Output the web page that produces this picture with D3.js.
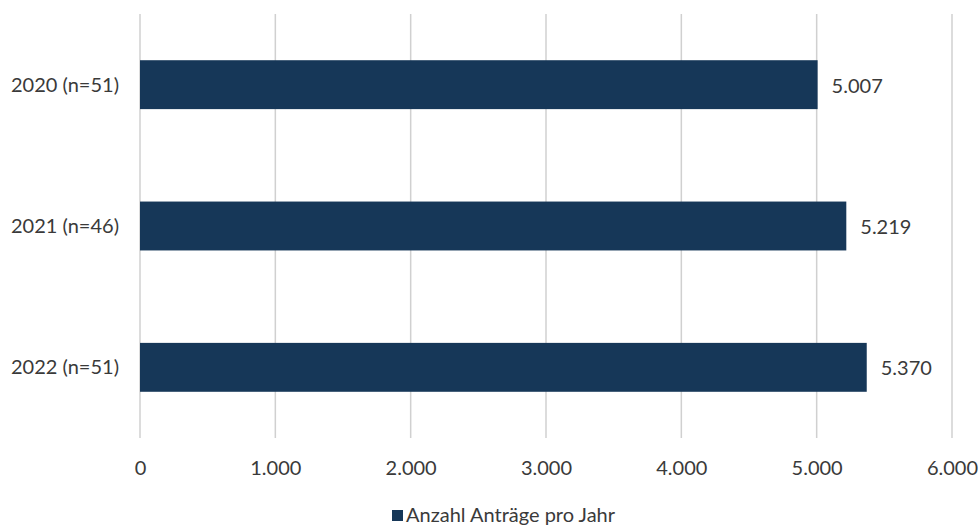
<!DOCTYPE html>
<html>
<head>
<meta charset="utf-8">
<script src="https://cdn.jsdelivr.net/npm/d3@7"></script>
<style>
  body { margin: 0; background: #fff; }
  svg { display: block; }
  text { font-family: Lato, "Open Sans", sans-serif; fill: #3a3a3a; }
</style>
</head>
<body>
<svg id="chart" width="980" height="526"></svg>
<script>
const categories = ["2020 (n=51)", "2021 (n=46)", "2022 (n=51)"];
const values = [5007, 5219, 5370];
const tickValues = [0, 1000, 2000, 3000, 4000, 5000, 6000];
const seriesName = "Anzahl Anträge pro Jahr";

const fmt = d3.formatLocale({ decimal: ",", thousands: ".", grouping: [3], currency: ["", "€"] }).format(",.0f");

const svg = d3.select("#chart");
const plot = { left: 140, right: 952, top: 14, bottom: 438 };
const fontSize = 20;

const x = d3.scaleLinear().domain([0, 6000]).range([plot.left, plot.right]);
const y = d3.scaleBand().domain(categories).range([plot.top, plot.bottom]).paddingInner(0.654).paddingOuter(0.327);

// vertical gridlines
svg.append("g").selectAll("line").data(tickValues).join("line")
  .attr("x1", d => x(d)).attr("x2", d => x(d))
  .attr("y1", plot.top).attr("y2", plot.bottom)
  .attr("stroke", "#d0d0d0").attr("stroke-width", 1.5);

// bars
const color = "#163758";
svg.append("g").selectAll("rect").data(values).join("rect")
  .attr("x", x(0))
  .attr("y", (d, i) => y(categories[i]))
  .attr("width", d => x(d) - x(0))
  .attr("height", y.bandwidth())
  .attr("fill", color);

// value labels
svg.append("g").selectAll("text").data(values).join("text")
  .attr("x", d => x(d) + 14)
  .attr("y", (d, i) => y(categories[i]) + y.bandwidth() / 2 + 1)
  .attr("dy", "0.35em")
  .attr("font-size", fontSize)
  .text(d => fmt(d));

// category axis labels
svg.append("g").selectAll("text").data(categories).join("text")
  .attr("x", 119)
  .attr("y", d => y(d) + y.bandwidth() / 2)
  .attr("dy", "0.35em")
  .attr("text-anchor", "end")
  .attr("font-size", fontSize)
  .text(d => d);

// x axis
const xAxis = d3.axisBottom(x).tickValues(tickValues).tickFormat(d => fmt(d)).tickSize(0).tickPadding(0);
const gx = svg.append("g").attr("transform", `translate(0,${plot.bottom + 30})`).call(xAxis);
gx.select(".domain").remove();
gx.selectAll("text").attr("font-size", fontSize).attr("font-family", "Lato, 'Open Sans', sans-serif").attr("fill", "#3a3a3a").attr("dy", "0.35em");

// legend
const lg = svg.append("g").attr("transform", "translate(392,515)");
lg.append("rect").attr("x", 0).attr("y", -5).attr("width", 11).attr("height", 11).attr("fill", color);
lg.append("text").attr("x", 14).attr("y", 0).attr("dy", "0.35em").attr("font-size", fontSize).text(seriesName);
</script>
</body>
</html>
